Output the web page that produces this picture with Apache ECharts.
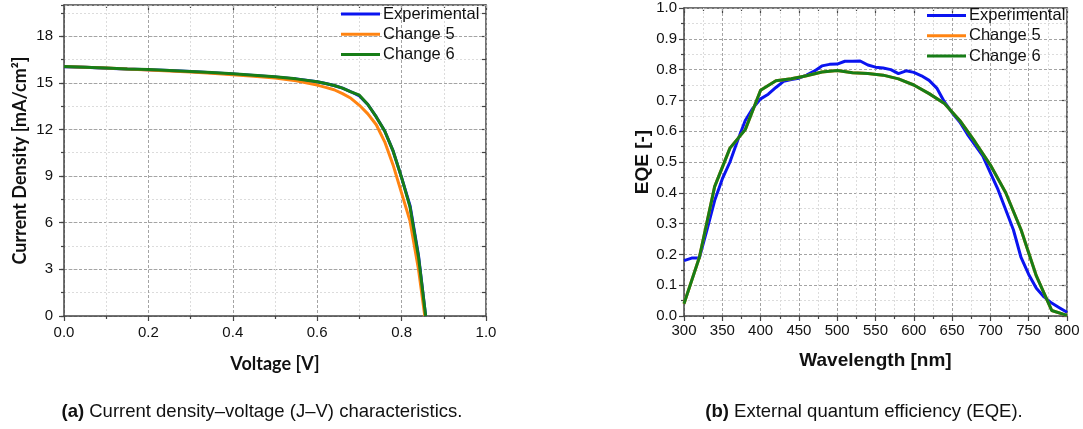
<!DOCTYPE html>
<html><head><meta charset="utf-8">
<script src="https://cdn.jsdelivr.net/npm/echarts@6/dist/echarts.min.js"></script>
<style>html,body{margin:0;padding:0;background:#fff}#c{width:1083px;height:429px}</style>
</head><body><div id="c"></div>
<script>
// ---- J-V data ----
const jvVoltage5 = [0, 0.05, 0.1, 0.15, 0.2, 0.25, 0.3, 0.35, 0.4, 0.45, 0.5, 0.55, 0.6, 0.62, 0.64, 0.66, 0.68, 0.70, 0.72, 0.74, 0.76, 0.78, 0.80, 0.82, 0.84, 0.855];
const jvChange5 =   [16.05, 16.0, 15.95, 15.88, 15.82, 15.76, 15.69, 15.61, 15.52, 15.42, 15.3, 15.12, 14.85, 14.7, 14.55, 14.3, 14.0, 13.55, 13.0, 12.3, 11.2, 9.7, 7.9, 6.1, 3.0, 0];
const jvVoltage = [0, 0.05, 0.1, 0.15, 0.2, 0.25, 0.3, 0.35, 0.4, 0.45, 0.5, 0.55, 0.6, 0.62, 0.64, 0.66, 0.68, 0.70, 0.72, 0.74, 0.76, 0.78, 0.80, 0.82, 0.84, 0.857];
const jvExperimental = [16.03, 15.99, 15.94, 15.88, 15.84, 15.78, 15.72, 15.64, 15.57, 15.47, 15.37, 15.24, 15.06, 14.95, 14.82, 14.65, 14.42, 14.15, 13.6, 12.8, 11.9, 10.6, 8.9, 7.1, 3.9, 0];
const jvChange6 = [16.05, 16.0, 15.95, 15.89, 15.85, 15.79, 15.73, 15.66, 15.58, 15.48, 15.38, 15.25, 15.06, 14.95, 14.82, 14.65, 14.42, 14.2, 13.6, 12.8, 11.9, 10.6, 8.9, 7.0, 3.8, 0];

// ---- EQE data ----
const eqeWlExp = [300,310,320,330,340,350,360,370,380,390,400,410,420,430,440,450,460,470,480,490,500,510,520,530,540,550,560,570,580,590,600,610,620,630,640,650,660,670,680,690,700,710,720,730,740,750,760,770,780,790,800];
const eqeExperimental = [0.18,0.188,0.188,0.28,0.375,0.445,0.50,0.57,0.635,0.675,0.705,0.72,0.742,0.762,0.768,0.772,0.782,0.795,0.812,0.817,0.818,0.827,0.827,0.828,0.815,0.808,0.805,0.80,0.787,0.796,0.791,0.78,0.765,0.74,0.695,0.66,0.63,0.59,0.555,0.52,0.465,0.41,0.345,0.28,0.19,0.135,0.09,0.062,0.042,0.027,0.012];
const eqeWlSim = [300,320,340,360,380,400,420,440,460,480,500,520,540,560,580,600,620,640,660,680,700,720,740,760,780,800];
const eqeChange5 = [0.04,0.19,0.42,0.545,0.605,0.733,0.764,0.77,0.78,0.792,0.797,0.79,0.787,0.782,0.77,0.75,0.722,0.69,0.635,0.565,0.49,0.40,0.28,0.13,0.018,0.002];
const eqeChange6 = [0.04,0.19,0.42,0.545,0.605,0.733,0.764,0.77,0.78,0.792,0.797,0.79,0.787,0.782,0.77,0.75,0.722,0.69,0.635,0.565,0.49,0.40,0.28,0.13,0.018,0.002];

const seriesNames = ['Experimental', 'Change 5', 'Change 6'];
const colors = ['#0a14f0', '#ff8412', '#177d17'];

const zip = (xs, ys) => xs.map((x, i) => [x, ys[i]]);

const AX = '#444';
const MAJ = '#a4a4a4';
const MIN = '#dcdcdc';
const ARIAL = '"Liberation Sans", Arial, sans-serif';
const tickFont = {fontFamily: ARIAL, fontSize: 15, color: '#111'};
const nameFontL = {fontFamily: 'Lato, "Open Sans", sans-serif', fontWeight: 'bold', fontSize: 18, color: '#111'};
const nameFontR = {fontFamily: ARIAL, fontWeight: 'bold', fontSize: 19, color: '#111'};

function mainX(grid, min, max, interval, name, gap, margin, fmt, nameFont) {
  return {
    type: 'value', gridIndex: grid, min, max, interval, position: 'bottom', z: 1,
    name, nameLocation: 'middle', nameGap: gap, nameTextStyle: nameFont,
    axisLine: {show: true, onZero: false, lineStyle: {color: AX, width: 1.5}},
    axisTick: {show: true, inside: false, length: 5, lineStyle: {color: AX, width: 1.2}},
    minorTick: {show: true, splitNumber: 2, length: 3, lineStyle: {color: AX, width: 1.2}},
    axisLabel: Object.assign({margin, formatter: fmt}, tickFont),
    splitLine: {show: true, lineStyle: {color: MAJ, type: [3, 2], width: 1}},
    minorSplitLine: {show: true, lineStyle: {color: MIN, type: [2, 2], width: 1}}
  };
}
function frameX(grid, min, max, interval) {
  return {
    type: 'value', gridIndex: grid, min, max, interval, position: 'top',
    axisLine: {show: true, onZero: false, lineStyle: {color: AX, width: 1.5}},
    axisTick: {show: true, inside: true, length: 5, lineStyle: {color: AX, width: 1.2}},
    minorTick: {show: true, splitNumber: 2, length: 3, lineStyle: {color: AX, width: 1.2}},
    axisLabel: {show: false}, splitLine: {show: false}
  };
}
function legendGroup(left, top) {
  return {type: 'group', x: left, y: top, z: 100, children: seriesNames.map((n, i) => ({
    type: 'group', y: i * 20.3, z: 100, children: [
      {type: 'rect', z: 100, shape: {x: 0, y: -1.5, width: 39, height: 3}, style: {fill: colors[i]}},
      {type: 'text', z: 100, x: 42, y: 0, style: {text: n, font: '16.5px ' + ARIAL, fill: '#111', verticalAlign: 'middle'}}
    ]}))
  };
}

const option = {
  backgroundColor: '#fff',
  animation: false,
  color: colors,
  grid: [
    {left: 64, top: 5, width: 422, bottom: 113},
    {left: 684, top: 8, width: 383, bottom: 113}
  ],
  xAxis: [
    mainX(0, 0, 1, 0.2, 'Voltage [V]', 39, 9, v => v.toFixed(1), nameFontL),
    frameX(0, 0, 1, 0.2),
    mainX(1, 300, 800, 50, 'Wavelength [nm]', 35, 7, v => String(v), nameFontR),
    frameX(1, 300, 800, 50)
  ],
  yAxis: [
    { // main left y, chart a
      type: 'value', gridIndex: 0, min: 0, max: 20, interval: 3, position: 'left', z: 1,
      name: 'Current Density [mA/cm²]', nameLocation: 'middle', nameGap: 35, nameTextStyle: nameFontL,
      axisLine: {show: true, onZero: false, lineStyle: {color: AX, width: 1.5}},
      axisTick: {show: true, length: 5, lineStyle: {color: AX, width: 1.2}},
      axisLabel: Object.assign({margin: 11, showMaxLabel: false}, tickFont),
      splitLine: {show: true, lineStyle: {color: MAJ, type: [3, 2], width: 1}}
    },
    { // minor grid, chart a
      type: 'value', gridIndex: 0, min: 0, max: 20, interval: 1.5, position: 'left', z: 0,
      axisLine: {show: false},
      axisTick: {show: true, length: 3, lineStyle: {color: AX, width: 1.2}},
      axisLabel: {show: false},
      splitLine: {show: true, lineStyle: {color: MIN, type: [2, 2], width: 1}}
    },
    { // right frame, chart a
      type: 'value', gridIndex: 0, min: 0, max: 20, interval: 1.5, position: 'right',
      axisLine: {show: true, onZero: false, lineStyle: {color: AX, width: 1.5}},
      axisTick: {show: true, inside: true, length: 4, lineStyle: {color: AX, width: 1.2}},
      axisLabel: {show: false}, splitLine: {show: false}
    },
    { // main y, chart b
      type: 'value', gridIndex: 1, min: 0, max: 1, interval: 0.1, position: 'left', z: 1,
      name: 'EQE [-]', nameLocation: 'middle', nameGap: 32, nameTextStyle: nameFontR,
      axisLine: {show: true, onZero: false, lineStyle: {color: AX, width: 1.5}},
      axisTick: {show: true, length: 5, lineStyle: {color: AX, width: 1.2}},
      minorTick: {show: true, splitNumber: 2, length: 3, lineStyle: {color: AX, width: 1.2}},
      axisLabel: Object.assign({margin: 7, formatter: v => v.toFixed(1)}, tickFont),
      splitLine: {show: true, lineStyle: {color: MAJ, type: [3, 2], width: 1}},
      minorSplitLine: {show: true, lineStyle: {color: MIN, type: [2, 2], width: 1}}
    },
    { // right frame chart b
      type: 'value', gridIndex: 1, min: 0, max: 1, interval: 0.1, position: 'right',
      axisLine: {show: true, onZero: false, lineStyle: {color: AX, width: 1.5}},
      axisTick: {show: true, inside: true, length: 5, lineStyle: {color: AX, width: 1.2}},
      minorTick: {show: true, splitNumber: 2, length: 3, lineStyle: {color: AX, width: 1.2}},
      axisLabel: {show: false}, splitLine: {show: false}
    }
  ],
  series: [
    {name: seriesNames[0], type: 'line', xAxisIndex: 0, yAxisIndex: 0, symbol: 'none', lineStyle: {width: 3, color: colors[0]}, data: zip(jvVoltage, jvExperimental), z: 3},
    {name: seriesNames[1], type: 'line', xAxisIndex: 0, yAxisIndex: 0, symbol: 'none', lineStyle: {width: 3, color: colors[1]}, data: zip(jvVoltage5, jvChange5), z: 4},
    {name: seriesNames[2], type: 'line', xAxisIndex: 0, yAxisIndex: 0, symbol: 'none', lineStyle: {width: 3, color: colors[2]}, data: zip(jvVoltage, jvChange6), z: 5},
    {name: seriesNames[0], type: 'line', xAxisIndex: 2, yAxisIndex: 3, symbol: 'none', lineStyle: {width: 3, color: colors[0]}, data: zip(eqeWlExp, eqeExperimental), z: 3},
    {name: seriesNames[1], type: 'line', xAxisIndex: 2, yAxisIndex: 3, symbol: 'none', lineStyle: {width: 3, color: colors[1]}, data: zip(eqeWlSim, eqeChange5), z: 4},
    {name: seriesNames[2], type: 'line', xAxisIndex: 2, yAxisIndex: 3, symbol: 'none', lineStyle: {width: 3, color: colors[2]}, data: zip(eqeWlSim, eqeChange6), z: 5}
  ],
  graphic: [
    legendGroup(341, 14),
    legendGroup(927, 15.5),
    {type: 'text', x: 262, y: 412, style: {
      text: '{b|(a)} Current density–voltage (J–V) characteristics.', align: 'center', verticalAlign: 'middle',
      rich: {b: {fontWeight: 'bold', fontSize: 18.5, fontFamily: ARIAL, fill: '#111'}},
      font: '18.5px ' + ARIAL, fill: '#111'}},
    {type: 'text', x: 864, y: 412, style: {
      text: '{b|(b)} External quantum efficiency (EQE).', align: 'center', verticalAlign: 'middle',
      rich: {b: {fontWeight: 'bold', fontSize: 18.5, fontFamily: ARIAL, fill: '#111'}},
      font: '18.5px ' + ARIAL, fill: '#111'}}
  ]
};
const chart = echarts.init(document.getElementById('c'), null, {renderer: 'canvas'});
chart.setOption(option);
</script></body></html>
